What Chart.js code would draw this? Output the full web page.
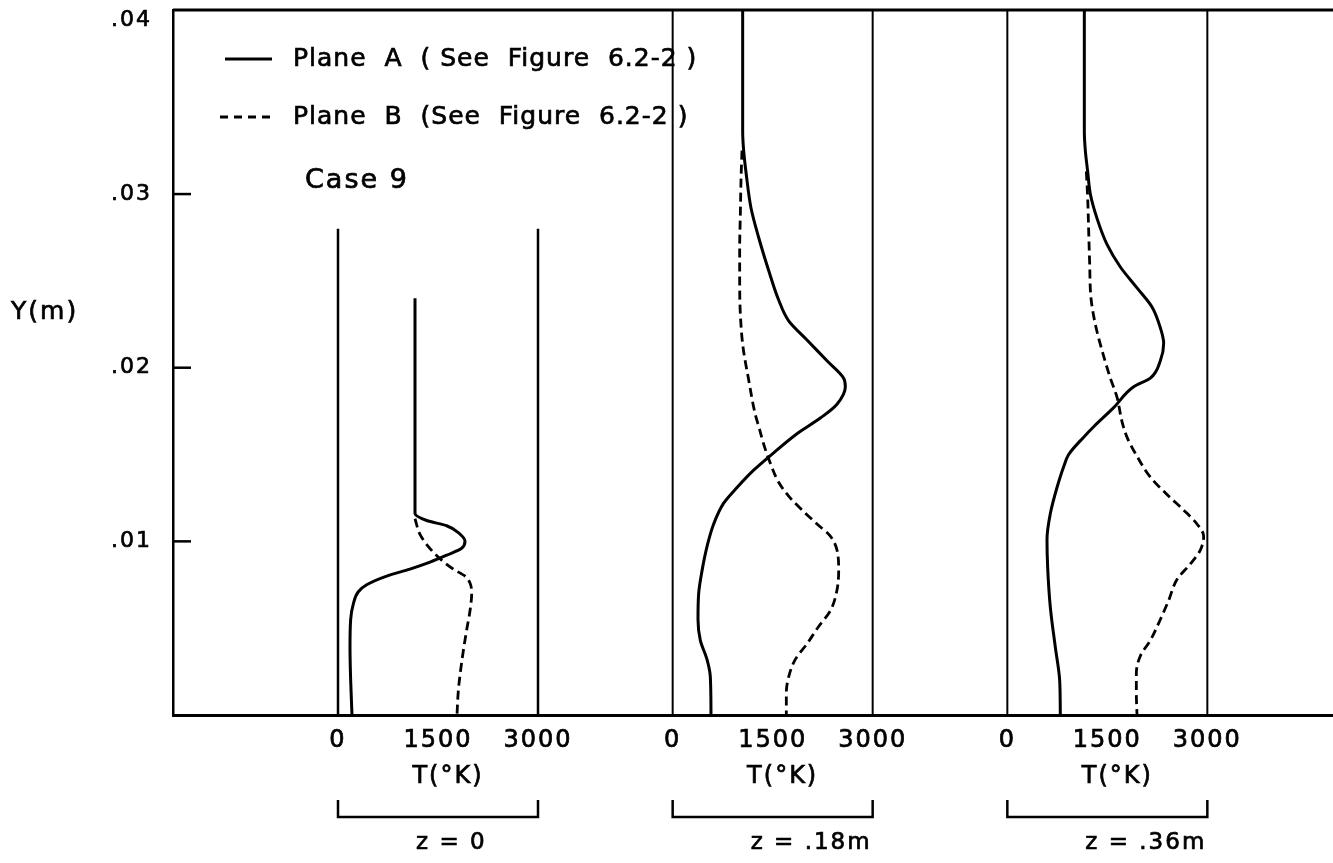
<!DOCTYPE html>
<html>
<head>
<meta charset="utf-8">
<script src="https://cdn.jsdelivr.net/npm/chart.js@4.4.1/dist/chart.umd.min.js"></script>
<style>
  html, body { margin: 0; padding: 0; background: #fff; }
  canvas { display: block; }
</style>
</head>
<body>
<canvas id="tempChart" width="1333" height="863"></canvas>
<script>
// axis values
const yMax = 0.0406;
const yTickValues = [0.01, 0.02, 0.03, 0.04];
const tTickValues = [0, 1500, 3000];
const zLabels = ['z = 0', 'z = .18m', 'z = .36m'];
const frameTops = [0.028, yMax, yMax];

// z = 0
const p1A_T = [1155, 1155, 1330, 1630, 1805, 1905, 1855, 1630, 1380, 1080, 730, 430, 305, 230, 190, 180, 190, 210];
const p1A_Y = [.0240, .0116, .0112, .0109, .0105, .0100, .0096, .0092, .0088, .0084, .0080, .0075, .0071, .0064, .0055, .0039, .0020, 0];
const p1B_T = [1155, 1230, 1355, 1530, 1730, 1905, 1980, 2005, 1980, 1930, 1880, 1840, 1805, 1785];
const p1B_Y = [.0113, .0104, .0097, .0090, .0084, .0080, .0076, .0070, .0060, .0049, .0037, .0026, .0014, 0];

// z = .18m
const p2A_T = [1050, 1050, 1065, 1105, 1175, 1290, 1440, 1590, 1740, 2015, 2315, 2565, 2590, 2465, 2215, 1865, 1515, 1215, 965, 765, 615, 515, 440, 390, 380, 415, 515, 565, 575];
const p2A_Y = [.0406, .0336, .0325, .0311, .0292, .0275, .0256, .0239, .0227, .0216, .0204, .0194, .0189, .0179, .0171, .0162, .0151, .0141, .0131, .0122, .0110, .0097, .0083, .0070, .0055, .0043, .0032, .0022, 0];
const p2B_T = [1040, 1025, 1015, 1005, 1005, 1015, 1055, 1140, 1240, 1300, 1365, 1465, 1590, 1740, 1915, 2165, 2365, 2465, 2490, 2465, 2365, 2190, 2015, 1840, 1740, 1705, 1705];
const p2B_Y = [.0325, .0308, .0288, .0269, .0250, .0231, .0212, .0193, .0173, .0165, .0156, .0145, .0134, .0126, .0119, .0110, .0103, .0095, .0083, .0072, .0060, .0051, .0041, .0032, .0022, .0013, 0];

// z = .36m
const p3A_T = [1155, 1155, 1170, 1205, 1245, 1345, 1495, 1695, 1945, 2170, 2295, 2345, 2295, 2145, 1895, 1595, 1295, 1145, 920, 845, 745, 645, 595, 605, 645, 720, 785, 795];
const p3A_Y = [.0406, .0336, .0325, .0313, .0300, .0286, .0271, .0258, .0246, .0235, .0223, .0214, .0204, .0194, .0189, .0177, .0166, .0160, .0150, .0143, .0131, .0116, .0101, .0085, .0062, .0039, .0020, 0];
const p3B_T = [1185, 1205, 1220, 1235, 1255, 1320, 1420, 1545, 1645, 1720, 1795, 1945, 2145, 2395, 2645, 2845, 2945, 2895, 2745, 2545, 2420, 2295, 2145, 1995, 1935, 1935, 1945];
const p3B_Y = [.0313, .0298, .0279, .0260, .0240, .0225, .0210, .0194, .0183, .0169, .0160, .0149, .0137, .0127, .0118, .0110, .0103, .0095, .0087, .0078, .0066, .0055, .0043, .0034, .0024, .0013, 0];

const panels = [
    { aT: p1A_T, aY: p1A_Y, bT: p1B_T, bY: p1B_Y },
    { aT: p2A_T, aY: p2A_Y, bT: p2B_T, bY: p2B_Y },
    { aT: p3A_T, aY: p3A_Y, bT: p3B_T, bY: p3B_Y }
];

// the three panels share one x scale, shifted by this many kelvin
const panelStep = 5020;
const FONT = '"DejaVu Sans", sans-serif';

const zip = (ts, ys, off) => ts.map((t, i) => ({ x: off + t, y: ys[i] }));

const datasets = [];
panels.forEach((p, i) => {
    const off = i * panelStep;
    [0, 3000].forEach(t => {
        datasets.push({
            label: 'frame',
            data: [{ x: off + t, y: 0 }, { x: off + t, y: frameTops[i] }],
            borderColor: '#000',
            borderWidth: i === 0 ? 2.5 : 2,
            pointRadius: 0,
            tension: 0
        });
    });
    // curves are functions of Y, so interpolate along the y axis
    datasets.push({
        label: 'Plane A',
        data: zip(p.aT, p.aY, off),
        indexAxis: 'y',
        borderColor: '#000',
        borderWidth: 3,
        pointRadius: 0,
        cubicInterpolationMode: 'monotone'
    });
    datasets.push({
        label: 'Plane B',
        data: zip(p.bT, p.bY, off),
        indexAxis: 'y',
        borderColor: '#000',
        borderWidth: 2.8,
        borderDash: [9, 5],
        pointRadius: 0,
        cubicInterpolationMode: 'monotone'
    });
});

function strokeLine(ctx, x1, y1, x2, y2) {
    ctx.beginPath();
    ctx.moveTo(x1, y1);
    ctx.lineTo(x2, y2);
    ctx.stroke();
}

// slightly heavier lettering, like the inked original
function inkText(ctx, text, x, y) {
    ctx.fillText(text, x, y);
    ctx.lineWidth = 0.7;
    ctx.strokeText(text, x, y);
}

const figureText = {
    id: 'figureText',
    beforeDraw(chart) {
        chart.ctx.letterSpacing = '2px';
    },
    afterDraw(chart) {
        const { ctx, chartArea: a, scales: { x, y } } = chart;
        ctx.save();
        ctx.strokeStyle = '#000';
        ctx.fillStyle = '#000';

        // top border
        ctx.lineWidth = 3;
        strokeLine(ctx, a.left, a.top, a.right, a.top);

        // inward tick marks on the Y axis
        ctx.lineWidth = 2.5;
        y.ticks.forEach(t => {
            if (t.value < 0.035) {
                const py = y.getPixelForValue(t.value);
                strokeLine(ctx, a.left, py, a.left + 18, py);
            }
        });

        // legend
        const dsA = chart.data.datasets.find(d => d.label === 'Plane A');
        const dsB = chart.data.datasets.find(d => d.label === 'Plane B');
        ctx.letterSpacing = '1px';
        ctx.font = '25px ' + FONT;
        ctx.textBaseline = 'middle';
        ctx.textAlign = 'left';
        ctx.lineWidth = dsA.borderWidth;
        strokeLine(ctx, a.left + 52, a.top + 49, a.left + 99, a.top + 49);
        inkText(ctx, 'Plane  A  ( See  Figure  6.2-2 )', a.left + 120, a.top + 49);
        ctx.lineWidth = dsB.borderWidth;
        ctx.setLineDash([8, 6]);
        strokeLine(ctx, a.left + 47, a.top + 107, a.left + 99, a.top + 107);
        ctx.setLineDash([]);
        inkText(ctx, 'Plane  B  (See  Figure  6.2-2 )', a.left + 120, a.top + 107);

        ctx.letterSpacing = '2px';
        ctx.font = '27px ' + FONT;
        inkText(ctx, 'Case 9', a.left + 132, a.top + 171);

        ctx.font = '25px ' + FONT;
        inkText(ctx, 'Y(m)', 11, 312);

        // per panel axis title and bracket
        zLabels.forEach((lab, i) => {
            const off = i * panelStep;
            const x0 = x.getPixelForValue(off);
            const x1 = x.getPixelForValue(off + 3000);
            const xc = x.getPixelForValue(off + 1500);
            ctx.font = '24px ' + FONT;
            ctx.textAlign = 'center';
            inkText(ctx, 'T(°K)', xc + 10, a.bottom + 62);

            ctx.lineWidth = 2.5;
            ctx.beginPath();
            ctx.moveTo(x0, a.bottom + 85);
            ctx.lineTo(x0, a.bottom + 102);
            ctx.lineTo(x1, a.bottom + 102);
            ctx.lineTo(x1, a.bottom + 85);
            ctx.stroke();

            ctx.font = '23px ' + FONT;
            ctx.textAlign = 'left';
            inkText(ctx, lab, x0 + 78, a.bottom + 128);
        });
        ctx.restore();
    }
};

Chart.defaults.font.family = FONT;
Chart.defaults.color = '#000';

new Chart(document.getElementById('tempChart'), {
    type: 'line',
    data: { datasets },
    options: {
        responsive: false,
        animation: false,
        layout: { padding: { top: 10, left: 0, right: 0, bottom: 108 } },
        plugins: {
            legend: { display: false },
            tooltip: { enabled: false }
        },
        scales: {
            x: {
                type: 'linear',
                min: -2475,
                max: 14925,
                grid: { display: false },
                border: { display: true, color: '#000', width: 3 },
                afterBuildTicks: scale => {
                    scale.ticks = [0, 1, 2].flatMap(i => tTickValues.map(t => ({ value: i * panelStep + t })));
                },
                afterFit: scale => {
                    scale.height = 40;
                    scale.paddingLeft = 0;
                    scale.paddingRight = 0;
                },
                ticks: {
                    autoSkip: false,
                    maxRotation: 0,
                    padding: 3,
                    font: { size: 24 },
                    textStrokeColor: '#000',
                    textStrokeWidth: 0.7,
                    callback: (v, i) => String(tTickValues[i % 3])
                }
            },
            y: {
                type: 'linear',
                min: 0,
                max: yMax,
                grid: { display: false },
                border: { display: true, color: '#000', width: 2.5 },
                afterBuildTicks: scale => {
                    scale.ticks = yTickValues.map(v => ({ value: v }));
                },
                afterFit: scale => {
                    scale.width = 173;
                    scale.paddingTop = 0;
                    scale.paddingBottom = 0;
                },
                ticks: {
                    padding: 13,
                    font: { size: 22 },
                    textStrokeColor: '#000',
                    textStrokeWidth: 0.7,
                    callback: v => '.0' + Math.round(v * 100)
                }
            }
        }
    },
    plugins: [figureText]
});
</script>
</body>
</html>
